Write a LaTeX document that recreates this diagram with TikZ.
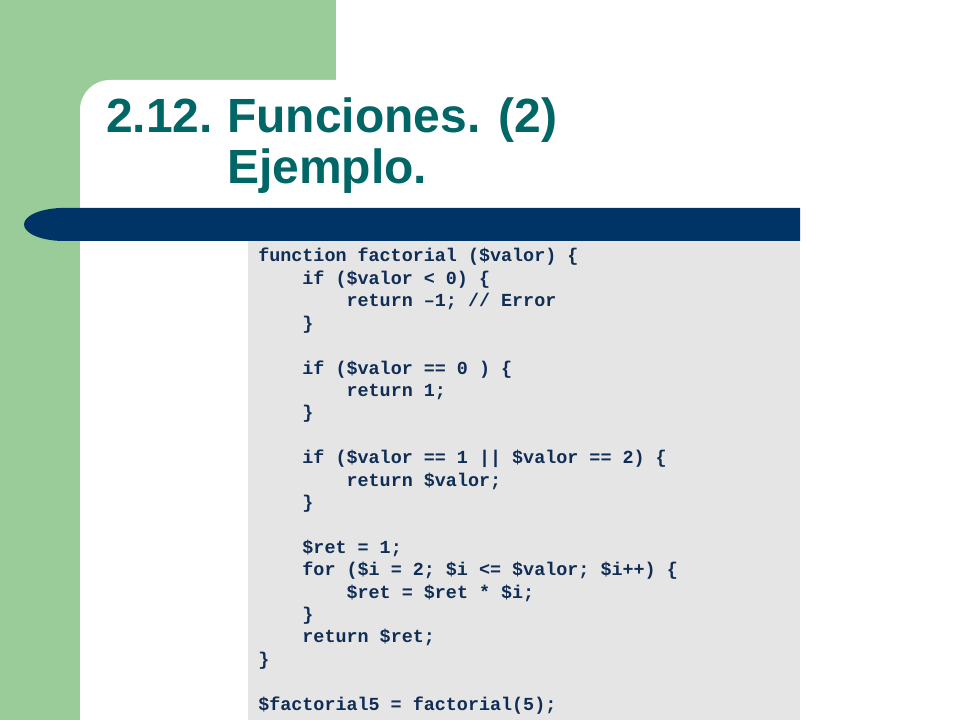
\documentclass[tikz,border=0pt]{standalone}
\usepackage{fontspec}
\setmainfont{Liberation Sans}
\newfontfamily\codefont{Liberation Mono}
\definecolor{slgreen}{HTML}{99CC99}
\definecolor{slblue}{HTML}{003366}
\definecolor{slgray}{HTML}{E5E5E5}
\definecolor{slteal}{HTML}{006666}
\definecolor{slcode}{HTML}{0F2D55}
\newcommand{\ind}{\hphantom{0000}}
\tikzset{
  titletext/.style={anchor=base west, inner sep=0pt, text=slteal, font=\fontsize{36pt}{43pt}\selectfont\bfseries},
  codeline/.style={anchor=base west, inner sep=0pt, text=slcode, font=\codefont\fontsize{13.8pt}{16.8pt}\selectfont\bfseries}
}
\begin{document}
\begin{tikzpicture}[x=0.75pt,y=-0.75pt]
\useasboundingbox (0,0) rectangle (960,720);
\fill[white] (0,0) rectangle (960,720);
% green background
\fill[slgreen] (0,0) rectangle (336,130);
\fill[slgreen] (0,0) rectangle (80,720);
% white panel with rounded top-left corner
\fill[white] (80,720) -- (80,110) .. controls (80,93.4) and (93.4,80) .. (110,80) -- (960,80) -- (960,720) -- cycle;
% title
\node[titletext] (t1) at (106,133) {2.12.};
\node[titletext] (t1b) at (227,133) {Funciones. (2)};
\node[titletext] (t2) at (227,184) {Ejemplo.};
% blue bar
\fill[slblue] (64,241) arc[start angle=270, end angle=90, x radius=30pt, y radius=12.4pt] -- (800,208) -- (800,241) -- cycle;
% gray code box
\fill[slgray] (248,241) rectangle (800,720);
% code
\node[codeline] (c1)  at (258,262.0) {function factorial (\$valor) \{};
\node[codeline] (c2)  at (258,284.4) {\ind if (\$valor < 0) \{};
\node[codeline] (c3)  at (258,306.8) {\ind\ind return –1; // Error};
\node[codeline] (c4)  at (258,329.2) {\ind \}};
\node[codeline] (c6)  at (258,374.0) {\ind if (\$valor == 0 ) \{};
\node[codeline] (c7)  at (258,396.4) {\ind\ind return 1;};
\node[codeline] (c8)  at (258,418.8) {\ind \}};
\node[codeline] (c10) at (258,463.6) {\ind if (\$valor == 1 || \$valor == 2) \{};
\node[codeline] (c11) at (258,486.0) {\ind\ind return \$valor;};
\node[codeline] (c12) at (258,508.4) {\ind \}};
\node[codeline] (c14) at (258,553.2) {\ind \$ret = 1;};
\node[codeline] (c15) at (258,575.6) {\ind for (\$i = 2; \$i <= \$valor; \$i++) \{};
\node[codeline] (c16) at (258,598.0) {\ind\ind \$ret = \$ret * \$i;};
\node[codeline] (c17) at (258,620.4) {\ind \}};
\node[codeline] (c18) at (258,642.8) {\ind return \$ret;};
\node[codeline] (c19) at (258,665.2) {\}};
\node[codeline] (c21) at (258,710.0) {\$factorial5 = factorial(5);};
\end{tikzpicture}
\end{document}
